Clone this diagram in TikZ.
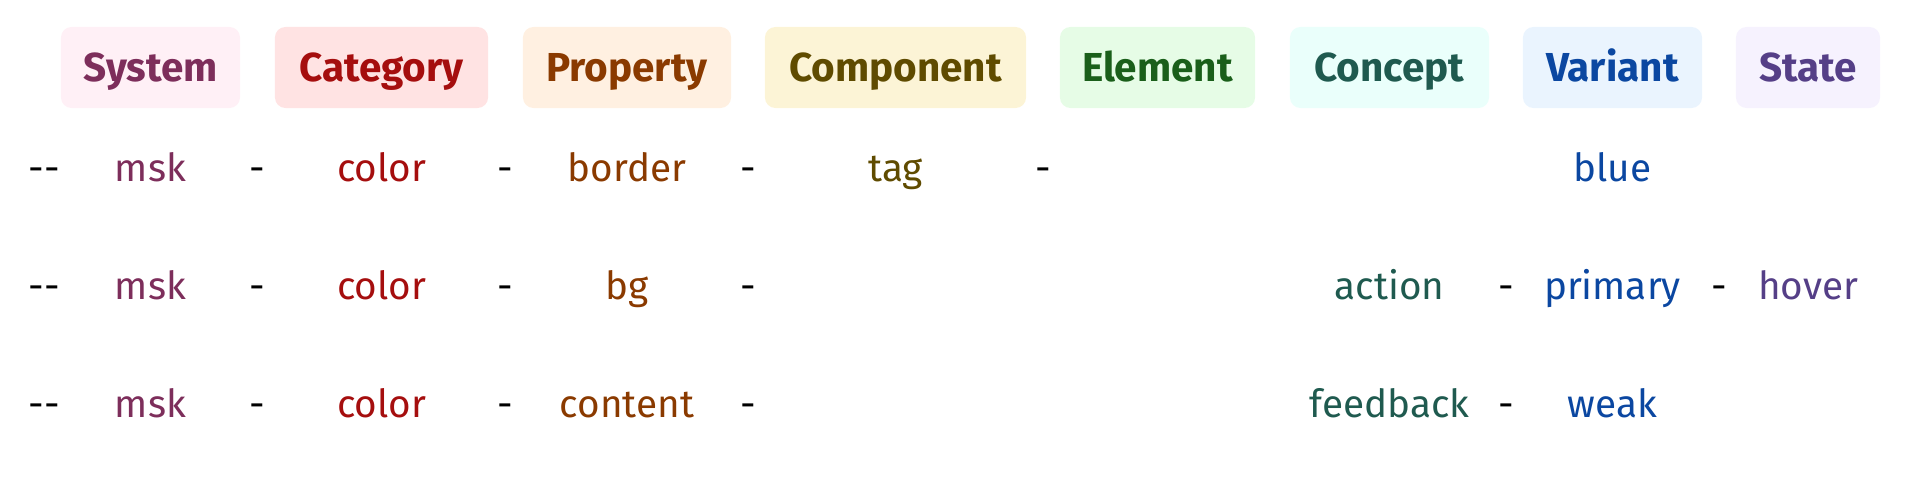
\documentclass[tikz,border=0pt]{standalone}
\usepackage{fontspec}
\setmainfont{Fira Sans}
\usetikzlibrary{positioning}

% header colours (fill / text)
\definecolor{sysFill}{HTML}{FFF0F6}  \definecolor{sysText}{HTML}{7D2E5B}
\definecolor{catFill}{HTML}{FFE3E3}  \definecolor{catText}{HTML}{A50E0E}
\definecolor{propFill}{HTML}{FFF0E1} \definecolor{propText}{HTML}{8A3A00}
\definecolor{compFill}{HTML}{FCF4D6} \definecolor{compText}{HTML}{5F4B00}
\definecolor{elemFill}{HTML}{E6FCE6} \definecolor{elemText}{HTML}{1A5F1A}
\definecolor{concFill}{HTML}{EAFFFB} \definecolor{concText}{HTML}{1F5A4F}
\definecolor{variFill}{HTML}{EAF4FE} \definecolor{variText}{HTML}{0B47A1}
\definecolor{statFill}{HTML}{F6F2FE} \definecolor{statText}{HTML}{553F87}

\begin{document}
\begin{tikzpicture}[
		x=0.01cm, y=-0.01cm,
		% header boxes
		head/.style={rounded corners=3pt, inner sep=0pt, minimum height=0.81cm,
			text height=10.2pt, text depth=2.5pt,
			font=\fontsize{11.5}{13}\selectfont\bfseries},
		% token texts and separators
		part/.style={anchor=base, inner sep=0pt, font=\fontsize{11}{13}\selectfont},
		sepa/.style={part, text=black}
		]
		\useasboundingbox (0,0) rectangle (1908,492);
		
		% =========================================================
		% HEADER ROW
		% =========================================================
		\node[head, fill=sysFill, text=sysText, minimum width=1.79cm] (Sys) at (150.5, 67.5) {System};
		\node[head, fill=catFill, text=catText, minimum width=2.13cm] (Cat) at (381.5, 67.5) {Category};
		\node[head, fill=propFill, text=propText, minimum width=2.08cm] (Prop) at (627, 67.5) {Property};
		\node[head, fill=compFill, text=compText, minimum width=2.61cm] (Comp) at (895.5, 67.5) {Component};
		\node[head, fill=elemFill, text=elemText, minimum width=1.95cm] (Elem) at (1157.5, 67.5) {Element};
		\node[head, fill=concFill, text=concText, minimum width=1.99cm] (Conc) at (1389.5, 67.5) {Concept};
		\node[head, fill=variFill, text=variText, minimum width=1.79cm] (Vari) at (1612.5, 67.5) {Variant};
		\node[head, fill=statFill, text=statText, minimum width=1.44cm] (Stat) at (1808, 67.5) {State};
		
		% =========================================================
		% TOKEN ROW 1: --msk-color-border-tag-blue
		% =========================================================
		\node[sepa] (OneA) at (44, 182) {-{}-};
		\node[part, text=sysText] (OneSys) at (150.5, 182) {msk};
		\node[sepa] (OneB) at (257, 182) {-};
		\node[part, text=catText] (OneCat) at (381.5, 182) {color};
		\node[sepa] (OneC) at (505, 182) {-};
		\node[part, text=propText] (OneProp) at (627, 182) {border};
		\node[sepa] (OneD) at (748, 182) {-};
		\node[part, text=compText] (OneComp) at (895.5, 182) {tag};
		\node[sepa] (OneE) at (1043, 182) {-};
		\node[part, text=variText] (OneVari) at (1612.5, 182) {blue};
		
		% =========================================================
		% TOKEN ROW 2: --msk-color-bg-action-primary-hover
		% =========================================================
		\node[sepa] (TwoA) at (44, 300) {-{}-};
		\node[part, text=sysText] (TwoSys) at (150.5, 300) {msk};
		\node[sepa] (TwoB) at (257, 300) {-};
		\node[part, text=catText] (TwoCat) at (381.5, 300) {color};
		\node[sepa] (TwoC) at (505, 300) {-};
		\node[part, text=propText] (TwoProp) at (627, 300) {bg};
		\node[sepa] (TwoD) at (748, 300) {-};
		\node[part, text=concText] (TwoConc) at (1389.5, 300) {action};
		\node[sepa] (TwoE) at (1506, 300) {-};
		\node[part, text=variText] (TwoVari) at (1612.5, 300) {primary};
		\node[sepa] (TwoF) at (1719, 300) {-};
		\node[part, text=statText] (TwoStat) at (1808, 300) {hover};
		
		% =========================================================
		% TOKEN ROW 3: --msk-color-content-feedback-weak
		% =========================================================
		\node[sepa] (ThreeA) at (44, 418) {-{}-};
		\node[part, text=sysText] (ThreeSys) at (150.5, 418) {msk};
		\node[sepa] (ThreeB) at (257, 418) {-};
		\node[part, text=catText] (ThreeCat) at (381.5, 418) {color};
		\node[sepa] (ThreeC) at (505, 418) {-};
		\node[part, text=propText] (ThreeProp) at (627, 418) {content};
		\node[sepa] (ThreeD) at (748, 418) {-};
		\node[part, text=concText] (ThreeConc) at (1389.5, 418) {feedback};
		\node[sepa] (ThreeE) at (1506, 418) {-};
		\node[part, text=variText] (ThreeVari) at (1612.5, 418) {weak};
		
	\end{tikzpicture}
\end{document}
